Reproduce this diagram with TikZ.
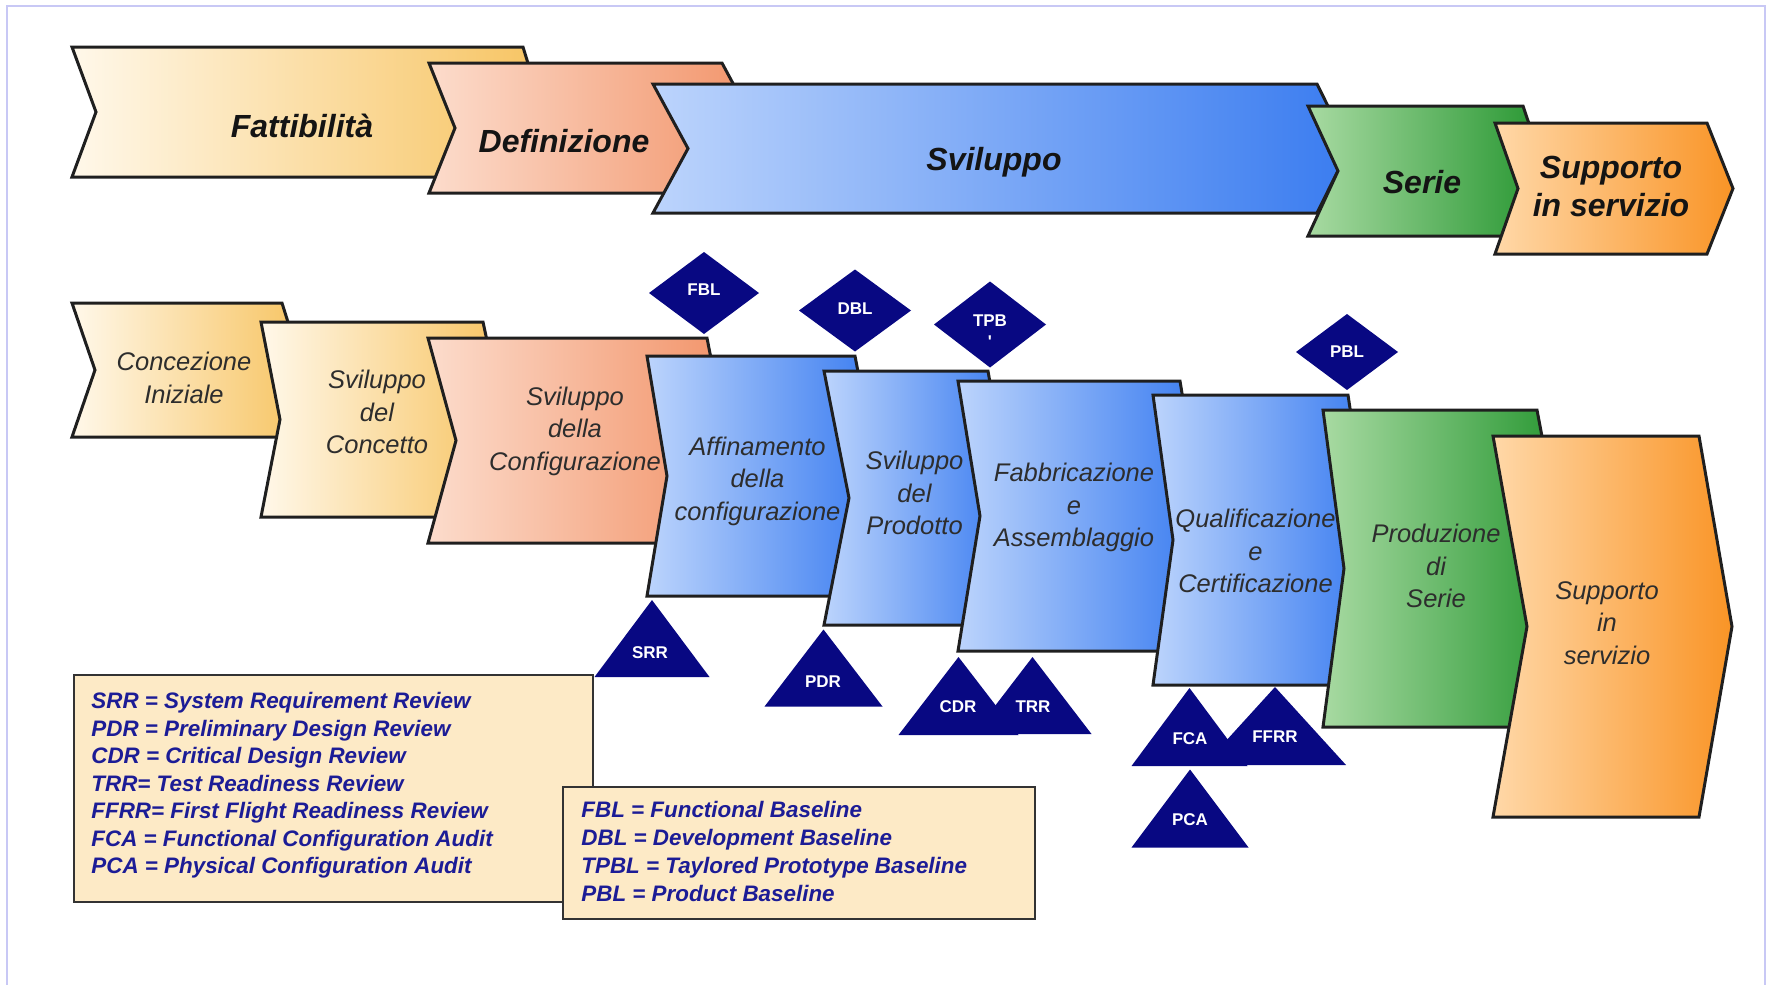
\documentclass[tikz,border=0pt]{standalone}
\usepackage{fontspec}
\setmainfont{Liberation Sans}

\definecolor{navyfill}{RGB}{8,8,130}
\definecolor{legendblue}{RGB}{28,28,150}
\definecolor{legendbg}{RGB}{253,234,198}
\definecolor{creamL}{RGB}{255,248,234}
\definecolor{creamR}{RGB}{247,196,98}
\definecolor{peachL}{RGB}{252,220,204}
\definecolor{peachR}{RGB}{242,148,106}
\definecolor{blueL}{RGB}{188,212,252}
\definecolor{blueR}{RGB}{58,124,240}
\definecolor{greenL}{RGB}{168,218,162}
\definecolor{greenR}{RGB}{38,150,48}
\definecolor{orangeL}{RGB}{255,216,168}
\definecolor{orangeR}{RGB}{249,148,38}
\definecolor{framecol}{RGB}{200,200,245}
\definecolor{txtgray}{RGB}{45,45,45}

% arrow-shaped phase block:
% #1 left x, #2 right x, #3 top y, #4 bottom y, #5 notch depth, #6 point depth, #7/#8 shading colours
\newcommand\chevshape[8]{%
  \path[chev, left color=#7, right color=#8]
    (#1,#3) -- (#2,#3) -- ({#2+#6},{(#3+#4)/2}) -- (#2,#4) -- (#1,#4)
    -- ({#1+#5},{(#3+#4)/2}) -- cycle;}

% milestone diamond: centre x, centre y, half width, half height
\newcommand\msdiamond[4]{%
  \fill[navyfill] (#1,{#2-#4}) -- ++(#3,#4) -- ++(-#3,#4) -- ++(-#3,-#4) -- cycle;}

% review triangle: apex x, apex y, half width, height
\newcommand\revtri[4]{%
  \fill[navyfill] (#1,#2) -- ++(#3,#4) -- ++({-2*#3},0) -- cycle;}

\begin{document}
\begin{tikzpicture}[x=0.5pt,y=-0.5pt,
  chev/.style={draw=black!88, line width=1.5pt, line join=miter},
  phaselabel/.style={font=\fontsize{16}{19.35}\selectfont\bfseries\itshape,
    text=black!92, inner sep=0pt, align=center},
  sublabel/.style={font=\fontsize{12.75}{16.25}\selectfont\itshape,
    text=txtgray, inner sep=0pt, align=center},
  marklabel/.style={font=\fontsize{8.5}{10.5}\selectfont\bfseries, text=white,
    inner sep=0pt, align=center},
  legendtext/.style={font=\fontsize{11.2}{13.75}\selectfont\bfseries\itshape,
    text=legendblue, inner sep=0pt, align=left, anchor=north west},
  legendbox/.style={draw=black!80, line width=1pt, fill=legendbg}]

\useasboundingbox (0,0) rectangle (1769,985);

% page frame
\draw[framecol, line width=1pt] (7,985) -- (7,6) -- (1765,6) -- (1765,985);

% ---------- main phases ----------
\chevshape{72}{523}{47}{177}{24}{20}{creamL}{creamR}
\chevshape{429}{722}{63}{193}{26}{35}{peachL}{peachR}
\chevshape{653}{1317}{84}{213}{35}{32}{blueL}{blueR}
\chevshape{1308}{1523}{106}{236}{30}{22}{greenL}{greenR}
\chevshape{1495}{1707}{123}{254}{23}{26}{orangeL}{orangeR}

\node[phaselabel, anchor=base] (tFatt) at (302,137) {Fattibilità};
\node[phaselabel, anchor=base] (tDef) at (564,152) {Definizione};
\node[phaselabel, anchor=base] (tSvil) at (994,170) {Sviluppo};
\node[phaselabel, anchor=base] (tSerie) at (1422,193) {Serie};
\node[phaselabel] (tSupp) at (1611,186.5) {Supporto\\in servizio};

% ---------- sub-phases ----------
\chevshape{72}{282}{303}{437}{23}{21}{creamL}{creamR}
\chevshape{261}{483}{322}{517}{19}{21}{creamL}{creamR}
\chevshape{428}{707}{338}{543}{28}{20}{peachL}{peachR}
\chevshape{647}{855}{356}{596}{20}{23}{blueL}{blueR}
\chevshape{824}{988}{371}{625}{25}{22}{blueL}{blueR}
\chevshape{958}{1180}{381}{651}{22}{22}{blueL}{blueR}
\chevshape{1153}{1348}{395}{685}{20}{22}{blueL}{blueR}
\chevshape{1323}{1537}{410}{727}{21}{30}{greenL}{greenR}
\chevshape{1493}{1699}{436}{817}{34}{33}{orangeL}{orangeR}

\node[sublabel] (sConc) at (184,377.7) {Concezione\\Iniziale};
\node[sublabel] (sCpt) at (377,412) {Sviluppo\\del\\Concetto};
\node[sublabel] (sCfg) at (575,431) {Sviluppo\\della\\Configurazione};
\node[sublabel] (sAff) at (757.5,481) {Affinamento\\della\\configurazione};
\node[sublabel] (sProd) at (914.5,493) {Sviluppo\\del\\Prodotto};
\node[sublabel] (sFab) at (1074,507.6) {Fabbricazione\\e\\Assemblaggio};
\node[sublabel] (sQual) at (1255.5,551) {Qualificazione\\e\\Certificazione};
\node[sublabel] (sSer) at (1436,566) {Produzione\\di\\Serie};
\node[sublabel] (sSupp) at (1607,623) {Supporto\\in\\servizio};

% ---------- baselines (diamonds) ----------
\msdiamond{704}{293}{55}{41}
\msdiamond{855}{310.5}{56}{41}
\msdiamond{990}{324.5}{56}{43}
\msdiamond{1347}{352}{51}{38}
\node[marklabel] (mFBL) at (704,290) {FBL};
\node[marklabel] (mDBL) at (855,309) {DBL};
\node[marklabel] (mTPB) at (990,331) {TPB\\\textquotesingle};
\node[marklabel] (mPBL) at (1347,352) {PBL};

% ---------- reviews (triangles) ----------
\revtri{652}{600}{57.5}{77}
\revtri{823.5}{629.5}{59}{77}
\revtri{958.5}{657}{60}{78}
\revtri{1032.5}{657}{59}{77}
\revtri{1189.5}{688}{58}{78}
\revtri{1275}{687}{71}{78}
\revtri{1190}{769.5}{58.5}{78}
\node[marklabel] (mSRR) at (650,653) {SRR};
\node[marklabel] (mPDR) at (823,682) {PDR};
\node[marklabel] (mCDR) at (958,707) {CDR};
\node[marklabel] (mTRR) at (1033,707) {TRR};
\node[marklabel] (mFCA) at (1190,739) {FCA};
\node[marklabel] (mFFRR) at (1275,737) {FFRR};
\node[marklabel] (mPCA) at (1190,819.5) {PCA};

% ---------- legends ----------
\draw[legendbox] (74,675) rectangle (593,902);
\node[legendtext] (legRev) at (91,692) {SRR = System Requirement Review\\
PDR = Preliminary Design Review\\
CDR = Critical Design Review\\
TRR= Test Readiness Review\\
FFRR= First Flight Readiness Review\\
FCA = Functional Configuration Audit\\
PCA = Physical Configuration Audit};

\draw[legendbox] (563,787) rectangle (1035,919);
\node[legendtext, font=\fontsize{11.2}{14}\selectfont\bfseries\itshape] (legBase) at (581,801) {FBL = Functional Baseline\\
DBL = Development Baseline\\
TPBL = Taylored Prototype Baseline\\
PBL = Product Baseline};

\end{tikzpicture}
\end{document}
